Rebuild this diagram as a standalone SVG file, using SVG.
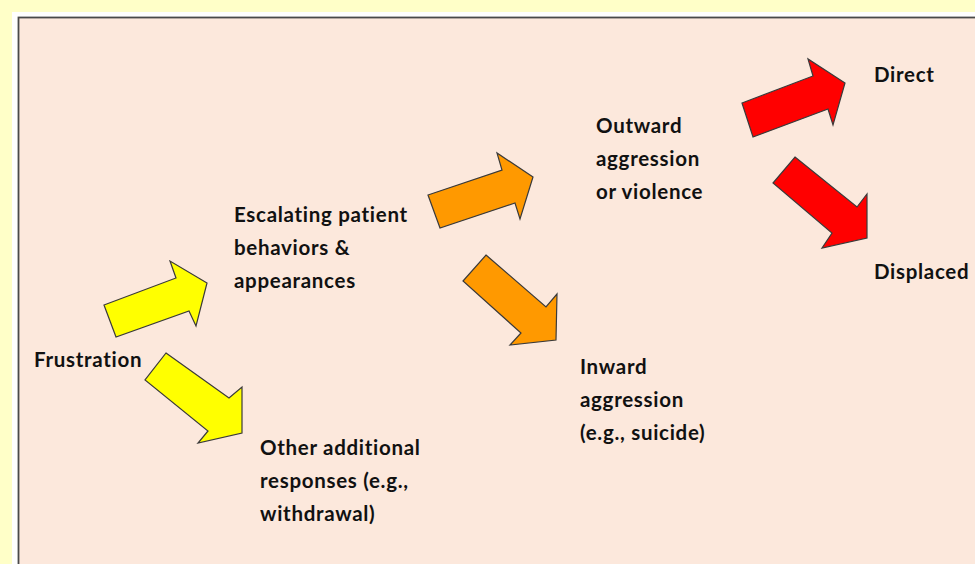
<svg xmlns="http://www.w3.org/2000/svg" width="975" height="564" viewBox="0 0 975 564">
<style>
.lbl{font-family:Lato,"Open Sans","Liberation Sans",sans-serif;font-weight:bold;font-size:20.5px;letter-spacing:0.7px;fill:#111}
.arrow{stroke:#3a3a3a;stroke-width:1.2;stroke-linejoin:miter}
.y{fill:#FFFF00}.o{fill:#FF9900}.r{fill:#FF0000}
</style>
<rect x="0" y="0" width="975" height="564" fill="#FFFFC8"/>
<rect x="12" y="12" width="970" height="560" fill="#FFFFFF"/>
<rect x="18.5" y="17.5" width="970" height="560" fill="#FCE8DC" stroke="#4a4a4a" stroke-width="1.8"/>
<g id="connectors">
<polygon class="arrow y" points="104,305 176,278 170,261 207,283 196,326 189,311 116,337"/>
<polygon class="arrow y" points="166,353 229,398 242,387 242,433 198,443 208,431 145,380"/>
<polygon class="arrow o" points="428,195 502,170 497,153 533,177 520,219 515,203 440,228"/>
<polygon class="arrow o" points="486,255 546,307 557,294 556,340 510,345 521,333 463,281"/>
<polygon class="arrow r" points="742,103 813,76 808,59 845,83 833,125 828,109 753,137"/>
<polygon class="arrow r" points="795,157 857,207 867,194 867,238 822,248 832,233 773,183"/>
</g>
<g id="frustration"><text class="lbl" x="34" y="367">Frustration</text></g>
<g id="escalating"><text class="lbl" x="234" y="222">Escalating patient</text><text class="lbl" x="234" y="255">behaviors &amp;</text><text class="lbl" x="234" y="288">appearances</text></g>
<g id="other"><text class="lbl" x="260" y="455">Other additional</text><text class="lbl" x="260" y="488">responses (e.g.,</text><text class="lbl" x="260" y="521">withdrawal)</text></g>
<g id="outward"><text class="lbl" x="596" y="133">Outward</text><text class="lbl" x="596" y="166">aggression</text><text class="lbl" x="596" y="199">or violence</text></g>
<g id="inward"><text class="lbl" x="580" y="374">Inward</text><text class="lbl" x="580" y="407">aggression</text><text class="lbl" x="580" y="440">(e.g., suicide)</text></g>
<g id="direct"><text class="lbl" x="874" y="82">Direct</text></g>
<g id="displaced"><text class="lbl" x="874" y="279">Displaced</text></g>
</svg>
